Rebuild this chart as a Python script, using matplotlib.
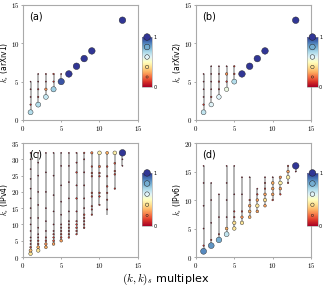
import numpy as np
import matplotlib
matplotlib.use("Agg")
import matplotlib.pyplot as plt
from matplotlib.colors import Normalize
from matplotlib.cm import ScalarMappable
from matplotlib.ticker import FuncFormatter

plt.rcParams['mathtext.fontset'] = 'cm'
plt.rcParams['font.family'] = 'DejaVu Sans'

cmap = plt.get_cmap('RdYlBu')
norm = Normalize(0, 1)

# ---- panel (a): arXiv1 ----
col_a = [1, 2, 3, 4, 5]
lo_a = [1, 2, 3, 4, 5]
hi_a = [5, 6, 6, 6, 6]
x_a = [1, 1, 1, 1, 1, 2, 2, 2, 2, 2, 3, 3, 3, 3, 4, 4, 4, 5, 5, 6, 7, 8, 9, 13]
y_a = [1, 2, 3, 4, 5, 2, 3, 4, 5, 6, 3, 4, 5, 6, 4, 5, 6, 5, 6, 6, 7, 8, 9, 13]
v_a = [0.68, 0.08, 0.03, 0.03, 0.0, 0.68, 0.08, 0.08, 0.02, 0.02,
       0.65, 0.25, 0.03, 0.05, 0.72, 0.08, 0.1, 0.95, 0.03,
       1.0, 1.0, 1.0, 1.0, 1.0]

# ---- panel (b): arXiv2 ----
col_b = [1, 2, 3, 4, 5]
lo_b = [1, 2, 3, 4, 5]
hi_b = [6, 7, 7, 7, 7]
x_b = [1, 1, 1, 1, 1, 1, 2, 2, 2, 2, 2, 2, 3, 3, 3, 3, 3, 4, 4, 4, 4, 5, 5, 5,
       6, 7, 8, 9, 13]
y_b = [1, 2, 3, 4, 5, 6, 2, 3, 4, 5, 6, 7, 3, 4, 5, 6, 7, 4, 5, 6, 7, 5, 6, 7,
       6, 7, 8, 9, 13]
v_b = [0.66, 0.1, 0.03, 0.02, 0.02, 0.02, 0.6, 0.1, 0.03, 0.03, 0.03, 0.02,
       0.6, 0.08, 0.1, 0.05, 0.02, 0.56, 0.1, 0.25, 0.03, 0.68, 0.12, 0.1,
       1.0, 1.0, 1.0, 1.0, 1.0]

# ---- panel (c): IPv4 ----
col_c = [1, 2, 3, 4, 5, 6, 7, 8, 9, 10, 11, 12, 13]
lo_c = [1, 2, 3, 4, 5, 6, 7, 8.5, 13, 16, 13, 21, 28]
hi_c = [32, 32, 32, 32, 32, 32, 32, 32, 32, 32, 32, 32, 32]
x_c = ([1] * 16 + [2] * 13 + [3] * 10 + [4] * 10 + [5] * 11 + [6] * 11 + [7] * 11
       + [8] * 11 + [9] * 9 + [10] * 7 + [11] * 7 + [12] * 5 + [13] * 3)
y_c = [1, 2, 3, 4, 5, 6, 8, 10, 12, 15, 18, 21, 24, 27, 30, 32,
       2, 3, 4, 5, 6, 7, 9, 12, 16, 20, 25, 29, 32,
       3, 4, 5, 6, 8, 11, 15, 20, 26, 32,
       4, 5, 6, 7, 8, 10, 14, 19, 25, 32,
       5, 6, 7, 8, 9, 10, 13, 17, 22, 28, 32,
       6, 7, 8, 9, 10, 11, 14, 18, 23, 28, 32,
       7, 8, 9, 10, 11, 14, 18, 22, 26, 29, 32,
       9, 10, 11, 12, 13, 15, 18, 22, 26, 30, 32,
       13, 14.6, 15.6, 18.6, 19.7, 24.8, 25.8, 27.8, 32,
       16, 18.6, 19.7, 24.8, 25.8, 27.8, 32,
       14.6, 17.6, 19.7, 21.7, 24.8, 27.8, 32,
       21, 25.4, 26.4, 28.8, 32,
       28, 30, 32]
v_c = [0.42, 0.33, 0.12, 0.05, 0.05, 0.03, 0.03, 0.02, 0.02, 0.02, 0.02, 0.02, 0.02, 0.02, 0.02, 0.02,
       0.42, 0.3, 0.12, 0.1, 0.05, 0.03, 0.03, 0.02, 0.02, 0.02, 0.02, 0.02, 0.02,
       0.3, 0.25, 0.12, 0.08, 0.03, 0.02, 0.02, 0.02, 0.02, 0.02,
       0.28, 0.15, 0.1, 0.08, 0.05, 0.03, 0.02, 0.02, 0.02, 0.02,
       0.28, 0.12, 0.1, 0.08, 0.06, 0.05, 0.03, 0.02, 0.02, 0.02, 0.02,
       0.12, 0.1, 0.08, 0.08, 0.06, 0.05, 0.03, 0.03, 0.03, 0.03, 0.03,
       0.1, 0.1, 0.12, 0.1, 0.08, 0.05, 0.1, 0.05, 0.1, 0.05, 0.05,
       0.1, 0.08, 0.08, 0.1, 0.12, 0.05, 0.05, 0.05, 0.05, 0.05, 0.1,
       0.1, 0.08, 0.1, 0.1, 0.12, 0.1, 0.12, 0.1, 0.22,
       0.08, 0.1, 0.12, 0.1, 0.12, 0.2, 0.45,
       0.06, 0.08, 0.1, 0.12, 0.1, 0.12, 0.3,
       0.1, 0.12, 0.12, 0.15, 0.45,
       0.02, 0.02, 1.0]

# ---- panel (d): IPv6 ----
col_d = [1, 2, 3, 4, 5, 6, 7, 8, 9, 10, 11, 12, 13]
lo_d = [1, 2, 3, 4, 5, 6, 7, 8, 9, 10, 11, 13, 15]
hi_d = [16, 13, 11, 16, 16, 14, 14, 12, 14, 14, 14, 16, 16]
x_d = ([1] * 6 + [2] * 5 + [3] * 4 + [4] * 6 + [5] * 6 + [6] * 5 + [7] * 5 + [8] * 5
       + [9] * 6 + [10] * 5 + [11] * 4 + [12] * 4 + [13] * 2)
y_d = [1, 2, 5, 9, 13, 16,
       2, 3, 6, 10, 13,
       3, 4, 7, 11,
       4, 5, 7, 10, 13, 16,
       5, 6, 7, 8, 11, 16,
       6, 7, 8, 11, 14,
       7, 8, 9, 10, 14,
       8, 9, 10, 11, 12,
       9, 10, 11, 12, 13, 14,
       10, 11, 12, 13, 14,
       11, 12, 13, 14,
       13, 14, 15, 16,
       15, 16]
v_d = [0.86, 0.08, 0.02, 0.02, 0.02, 0.02,
       0.84, 0.08, 0.02, 0.02, 0.02,
       0.8, 0.08, 0.02, 0.02,
       0.66, 0.3, 0.02, 0.02, 0.02, 0.02,
       0.42, 0.4, 0.1, 0.08, 0.02, 0.02,
       0.42, 0.25, 0.1, 0.02, 0.02,
       0.3, 0.3, 0.28, 0.1, 0.02,
       0.28, 0.42, 0.28, 0.1, 0.03,
       0.28, 0.4, 0.28, 0.1, 0.08, 0.03,
       0.12, 0.28, 0.28, 0.3, 0.03,
       0.1, 0.28, 0.45, 0.25,
       0.1, 0.45, 0.28, 0.1,
       0.03, 1.0]

panels = [
    ('(a)', r'$k_s$ (arXiv1)', col_a, lo_a, hi_a, x_a, y_a, v_a, 15,
     [0.069, 0.582, 0.346, 0.401], [0.428, 0.697, 0.030, 0.174]),
    ('(b)', r'$k_s$ (arXiv2)', col_b, lo_b, hi_b, x_b, y_b, v_b, 15,
     [0.590, 0.582, 0.347, 0.401], [0.925, 0.697, 0.032, 0.174]),
    ('(c)', r'$k_s$ (IPv4)', col_c, lo_c, hi_c, x_c, y_c, v_c, 35,
     [0.069, 0.1045, 0.346, 0.397], [0.428, 0.2125, 0.030, 0.185]),
    ('(d)', r'$k_s$ (IPv6)', col_d, lo_d, hi_d, x_d, y_d, v_d, 20,
     [0.590, 0.1045, 0.347, 0.397], [0.925, 0.2125, 0.032, 0.185]),
]


def msize(v):
    return 0.6 + 22 * np.asarray(v) ** 1.5


fig = plt.figure(figsize=(3.32, 2.87), dpi=100)
fmt = FuncFormatter(lambda v, p: r'$%g$' % v)
legend_v = [0.2, 0.4, 0.6, 0.8, 1.0]

for tag, ylab, cols, lo, hi, xs, ys, vs, ymax, pos, cpos in panels:
    ax = fig.add_axes(pos)
    ax.vlines(cols, lo, hi, color='#d4d4d4', lw=1.4, zorder=1)
    ax.vlines(cols, lo, hi, color='#555555', lw=0.35, zorder=2)
    vs = np.array(vs)
    ax.scatter(xs, ys, c=vs, cmap=cmap, norm=norm, s=msize(vs),
               edgecolors='#222222', linewidths=0.3, zorder=3)
    ax.set_xlim(0, 15)
    ax.set_ylim(0, ymax)
    ax.set_xticks([0, 5, 10, 15])
    if ymax == 15:
        ax.set_yticks([0, 5, 10, 15])
    elif ymax == 35:
        ax.set_yticks(range(0, 36, 5))
    else:
        ax.set_yticks([0, 5, 10, 15, 20])
    ax.xaxis.set_major_formatter(fmt)
    ax.yaxis.set_major_formatter(fmt)
    ax.tick_params(labelsize=5, length=1.5, width=0.5, color='#888888', pad=1.2)
    for sp in ax.spines.values():
        sp.set_color('#aaaaaa')
        sp.set_linewidth(0.8)
    ax.set_ylabel(ylab, fontsize=5.5)
    ax.yaxis.set_label_coords(-0.105, 0.5)
    ax.text(0.05, 0.94, tag, transform=ax.transAxes, fontsize=7, va='top')

    cax = fig.add_axes(cpos)
    cb = fig.colorbar(ScalarMappable(norm=norm, cmap=cmap), cax=cax, ticks=[0, 1])
    cb.outline.set_edgecolor('#999999')
    cb.outline.set_linewidth(0.4)
    cax.tick_params(labelsize=3.5, length=0, pad=1)
    lv = np.array(legend_v)
    cax.scatter([0.5] * len(lv), lv, c=lv, cmap=cmap, norm=norm, s=msize(lv),
                edgecolors='#222222', linewidths=0.35, zorder=3, clip_on=False)
    cax.set_xlim(0, 1)

fig.text(0.5, 0.028, r'$(k,k)_s$ multiplex', ha='center', va='center', fontsize=8)

fig.savefig('out.png', dpi=100)
